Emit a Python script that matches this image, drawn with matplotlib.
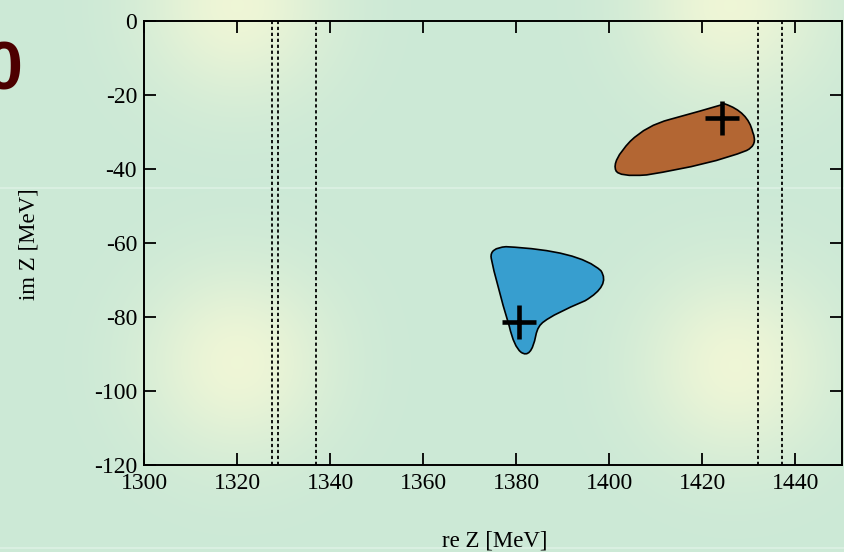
import numpy as np
import matplotlib
matplotlib.use("Agg")
import matplotlib.pyplot as plt
from matplotlib.path import Path
from matplotlib.patches import PathPatch

# pole regions (outline: start point, then control/end pairs for quadratic curves)
blue_x = [1374.6, 1374.3, 1377.8, 1393.5, 1398.2, 1400.3, 1394.8, 1388.0, 1386.0,
          1384.6, 1384.2, 1383.2, 1381.0, 1379.5, 1378.5, 1375.6, 1374.6]
blue_y = [-64.0, -61.3, -61.0, -62.0, -67.5, -71.5, -75.6, -79.2, -81.2,
          -82.3, -85.0, -91.5, -89.5, -88.0, -82.5, -70.5, -64.0]

orange_x = [1401.4, 1402.0, 1408.0, 1422.0, 1429.5, 1432.0, 1430.8, 1429.8, 1424.8,
            1420.0, 1413.0, 1408.0, 1404.5, 1400.5, 1401.4]
orange_y = [-40.4, -42.2, -41.6, -38.8, -35.0, -33.5, -30.0, -24.5, -22.4,
            -24.2, -26.6, -28.2, -32.5, -37.8, -40.4]

# pole positions
pole_re = [1380.6, 1424.2]
pole_im = [-81.3, -26.3]

# thresholds (vertical dotted lines)
thresholds = [1327.6, 1328.9, 1337.0, 1432.0, 1437.2]

xticks = [1300, 1320, 1340, 1360, 1380, 1400, 1420, 1440]
yticks = [0, -20, -40, -60, -80, -100, -120]

plt.rcParams['font.family'] = ['Liberation Serif', 'DejaVu Serif']
plt.rcParams['axes.unicode_minus'] = False

fig = plt.figure(figsize=(8.44, 5.52), dpi=100)

# slide-like background
bg = fig.add_axes([0, 0, 1, 1], zorder=-10)
h, w = 552, 844
yy, xx = np.mgrid[0:h, 0:w]
base = np.array([0.800, 0.914, 0.843])
glow = np.array([0.937, 0.965, 0.840])
t = np.zeros((h, w))
for cx, cy in [(237, 5), (730, 5), (237, 362), (735, 365)]:
    t = np.maximum(t, np.exp(-((xx - cx) ** 2 + (yy - cy) ** 2) / (2 * 65.0 ** 2)))
img = base[None, None, :] * (1 - t[..., None]) + glow[None, None, :] * t[..., None]
bg.imshow(img, aspect='auto', extent=[0, w, h, 0])
bg.axhline(188, color='#dcf1e4', lw=1.2)
bg.axhline(548, color='#dcf1e4', lw=1.2)
bg.set_xlim(0, w)
bg.set_ylim(h, 0)
bg.axis('off')

fig.text(22 / 844, 1 - 72 / 552, '0', ha='right', va='center', fontsize=49,
         fontweight='bold', color='#4d0000', family='Liberation Sans')

ax = fig.add_axes([144 / 844, 87 / 552, 698 / 844, 444 / 552])
ax.set_facecolor('none')


def region(xs, ys):
    verts = list(zip(xs, ys))
    codes = [Path.MOVETO] + [Path.CURVE3] * (len(verts) - 1)
    return Path(verts, codes)


ax.add_patch(PathPatch(region(blue_x, blue_y), facecolor='#379ecf',
                       edgecolor='black', lw=1.2, zorder=3))
ax.add_patch(PathPatch(region(orange_x, orange_y), facecolor='#b36633',
                       edgecolor='black', lw=1.2, zorder=3))

for xv in thresholds:
    ax.axvline(xv, color='black', lw=1.3, linestyle=(0, (1.8, 1.5)), zorder=2)

ax.plot(pole_re, pole_im, linestyle='none', marker='+', markersize=24,
        markeredgewidth=3.3, color='black', zorder=4)

ax.set_xlim(1300, 1450)
ax.set_ylim(-120, 0)
ax.set_xticks(xticks)
ax.set_yticks(yticks)
ax.tick_params(direction='in', length=8.6, width=1.3, labelsize=17,
               top=True, right=True, colors='black')
ax.tick_params(axis='x', pad=6)
ax.tick_params(axis='y', pad=5)
for s in ax.spines.values():
    s.set_linewidth(1.4)

ax.set_xlabel('re Z [MeV]', fontsize=16.5)
ax.set_ylabel('im Z [MeV]', fontsize=16.5)
ax.xaxis.set_label_coords(0.502, -0.147)
ax.yaxis.set_label_coords(-0.149, 0.498)

plt.savefig('out.png', dpi=100)
